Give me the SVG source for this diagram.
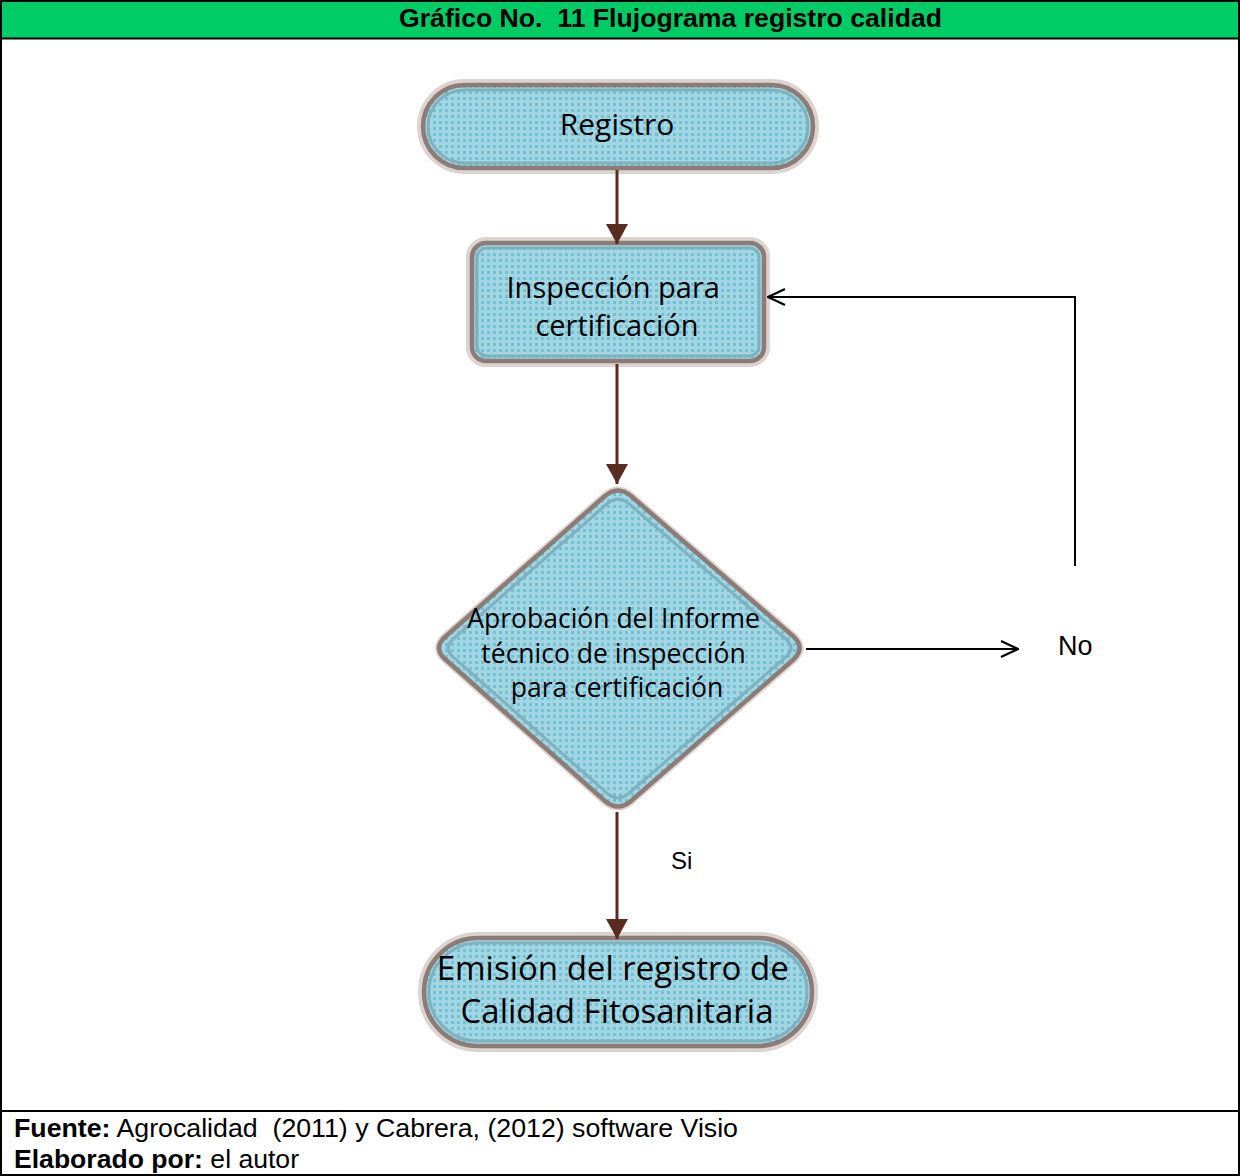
<svg xmlns="http://www.w3.org/2000/svg" width="1240" height="1176" viewBox="0 0 1240 1176">
  <defs>
    <!-- dotted light-blue fill used by every flowchart shape -->
    <pattern id="dots" width="6" height="6" patternUnits="userSpaceOnUse">
      <rect width="6" height="6" fill="#a3d6e3"/>
      <rect x="1" y="1" width="3" height="3" fill="#72c0d4"/>
    </pattern>
    <marker id="headFill" viewBox="0 0 20 22" refX="20" refY="11" markerWidth="20" markerHeight="22" markerUnits="userSpaceOnUse" orient="auto">
      <path d="M0,0 L20,11 L0,22 Z" fill="#5a2b20"/>
    </marker>
    <marker id="headOpen" viewBox="0 0 20 20" refX="19" refY="10" markerWidth="20" markerHeight="20" markerUnits="userSpaceOnUse" orient="auto">
      <path d="M2,2 L19,10 L2,18" fill="none" stroke="#000" stroke-width="2.2"/>
    </marker>
  </defs>
  <style>
    .frame { fill: none; stroke: #000; stroke-width: 2; }
    .halo { fill: none; stroke: #ddd3d0; stroke-width: 8; }
    .shape { fill: url(#dots); stroke: #8c7c78; stroke-width: 4.5; }
    .inner { fill: none; stroke: #7fb0bd; stroke-width: 3; }
    .label { font-family: "Open Sans", "DejaVu Sans", sans-serif; fill: #000; text-anchor: middle; }
    .flow { stroke: #5a2b20; stroke-width: 3; fill: none; }
    .back { stroke: #000; stroke-width: 2; fill: none; }
    .arial { font-family: "Liberation Sans", Arial, sans-serif; fill: #000; }
  </style>

  <rect width="1240" height="1176" fill="#fff"/>

  <!-- title bar -->
  <rect x="1" y="1" width="1238" height="37" fill="#00cc66"/>
  <text x="399" y="27" class="arial" font-size="26" font-weight="bold" xml:space="preserve" textLength="543" lengthAdjust="spacingAndGlyphs">Gráfico No.  11 Flujograma registro calidad</text>

  <!-- outer frame and separators -->
  <rect x="1" y="1" width="1238" height="1174" class="frame"/>
  <line x1="1" y1="38.5" x2="1239" y2="38.5" stroke="#000" stroke-width="2"/>
  <line x1="1" y1="1111" x2="1239" y2="1111" stroke="#000" stroke-width="2"/>

  <!-- start terminal -->
  <g id="registro">
    <rect x="421" y="83" width="394" height="87" rx="43.5" class="halo"/>
    <rect x="423" y="85" width="390" height="83" rx="41.5" class="shape"/>
    <rect x="428" y="90" width="380" height="73" rx="36.5" class="inner"/>
    <text x="617" y="135" class="label" font-size="30">Registro</text>
  </g>

  <!-- inspection process -->
  <g id="inspeccion">
    <rect x="470" y="241" width="296" height="122" rx="16" class="halo"/>
    <rect x="472" y="243" width="292" height="118" rx="14" class="shape"/>
    <rect x="477" y="248" width="282" height="108" rx="10" class="inner"/>
    <text class="label" font-size="29">
      <tspan x="617" y="298">Inspección para</tspan>
      <tspan x="617" y="336">certificación</tspan>
    </text>
  </g>

  <!-- approval decision -->
  <g id="aprobacion">
    <path d="M605,496 Q618,485 631,496 L794,637 Q805,648 794,659 L631,801 Q618,812 605,801 L445,659 Q433,648 445,637 Z" class="halo"/>
    <path d="M605,496 Q618,485 631,496 L794,637 Q805,648 794,659 L631,801 Q618,812 605,801 L445,659 Q433,648 445,637 Z" class="shape"/>
    <path d="M608,503 Q618,495 628,503 L787,640 Q795,648 787,656 L628,794 Q618,802 608,794 L452,656 Q444,648 452,640 Z" class="inner"/>
    <text class="label" font-size="26.5">
      <tspan x="617" y="628">Aprobación del Informe</tspan>
      <tspan x="617" y="663">técnico de inspección</tspan>
      <tspan x="617" y="697">para certificación</tspan>
    </text>
  </g>

  <!-- end terminal -->
  <g id="emision">
    <rect x="422" y="936" width="392" height="112" rx="56" class="halo"/>
    <rect x="424" y="938" width="388" height="108" rx="54" class="shape"/>
    <rect x="429" y="943" width="378" height="98" rx="49" class="inner"/>
    <text class="label" font-size="33">
      <tspan x="617" y="980">Emisión del registro de</tspan>
      <tspan x="617" y="1023">Calidad Fitosanitaria</tspan>
    </text>
  </g>

  <!-- connectors, drawn over the shape borders -->
  <g id="connectors">
    <line x1="617" y1="170" x2="617" y2="244" class="flow" marker-end="url(#headFill)"/>
    <line x1="617" y1="364" x2="617" y2="484" class="flow" marker-end="url(#headFill)"/>
    <line x1="617" y1="812" x2="617" y2="939" class="flow" marker-end="url(#headFill)"/>
    <line x1="806" y1="649" x2="1018" y2="649" class="back" marker-end="url(#headOpen)"/>
    <polyline points="1075,566 1075,297 768,297" class="back" marker-end="url(#headOpen)"/>
  </g>

  <!-- branch labels -->
  <text x="1058" y="655" class="arial" font-size="27">No</text>
  <text x="671" y="869" class="arial" font-size="24">Si</text>

  <!-- source note -->
  <text x="14" y="1137" class="arial" font-size="26" xml:space="preserve" textLength="724" lengthAdjust="spacingAndGlyphs"><tspan font-weight="bold">Fuente:</tspan> Agrocalidad  (2011) y Cabrera, (2012) software Visio</text>
  <text x="14" y="1168" class="arial" font-size="26" xml:space="preserve" textLength="285" lengthAdjust="spacingAndGlyphs"><tspan font-weight="bold">Elaborado por:</tspan> el autor</text>
</svg>
